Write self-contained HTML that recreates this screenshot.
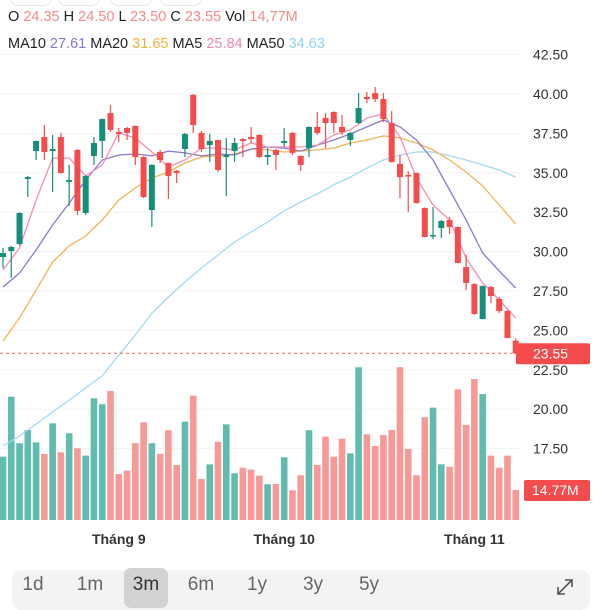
<!DOCTYPE html>
<html><head><meta charset="utf-8">
<style>
html,body{margin:0;padding:0;background:#fff;width:600px;height:600px;overflow:hidden;font-family:"Liberation Sans",sans-serif}
.hdr{position:absolute;left:8px;font-size:14.5px;color:#222;white-space:nowrap}
.v{color:#f38b8b}
.tab{position:absolute;top:574px;font-size:19px;color:#666;width:44px;text-align:center}
</style></head><body>
<div style="position:absolute;left:0;top:-14px;width:600px;height:20px">
 <div style="position:absolute;left:10px;width:40px;height:18px;border:1px solid #e6e6e6;border-radius:8px"></div>
 <div style="position:absolute;left:58px;width:40px;height:18px;border:1px solid #e6e6e6;border-radius:8px"></div>
 <div style="position:absolute;left:110px;width:40px;height:18px;border:1px solid #e6e6e6;border-radius:8px"></div>
 <div style="position:absolute;left:160px;width:40px;height:18px;border:1px solid #e6e6e6;border-radius:8px"></div>
</div>
<div class="hdr" style="top:9px">O <span class="v">24.35</span> H <span class="v">24.50</span> L <span class="v">23.50</span> C <span class="v">23.55</span> Vol <span class="v">14,77M</span></div>
<div class="hdr" style="top:36px">MA10 <span style="color:#8679cc">27.61</span> MA20 <span style="color:#eeb040">31.65</span> MA5 <span style="color:#ef88b0">25.84</span> MA50 <span style="color:#94d0ee">34.63</span></div>

<svg id="chart" width="600" height="560" style="position:absolute;left:0;top:0" xmlns="http://www.w3.org/2000/svg"></svg>

<div style="position:absolute;left:12px;top:570px;width:578px;height:40px;background:#f3f3f3;border-radius:9px"></div>
<div style="position:absolute;left:124px;top:568px;width:44px;height:40px;background:#d2d2d2;border-radius:7px"></div>
<div class="tab" style="left:11px">1d</div>
<div class="tab" style="left:68px">1m</div>
<div class="tab" style="left:124px;color:#333">3m</div>
<div class="tab" style="left:179px">6m</div>
<div class="tab" style="left:235px">1y</div>
<div class="tab" style="left:291px">3y</div>
<div class="tab" style="left:347px">5y</div>
<svg style="position:absolute;left:555px;top:577px" width="20" height="20" viewBox="0 0 20 20"><path d="M3 17 L17 3 M10 3 H17 V10 M3 10 V17 H10" stroke="#555" stroke-width="1.6" fill="none"/></svg>

<script>
const opens=[29.66,30.04,30.48,34.61,36.38,37.27,36.38,37.27,34.42,36.45,32.45,36.07,37.02,38.79,37.59,37.84,37.97,36.00,32.64,36.32,35.62,35.12,36.51,39.94,37.53,36.76,37.08,36.00,36.38,37.14,37.27,37.40,36.00,36.45,36.89,37.53,36.07,36.57,37.91,38.48,38.86,37.91,37.08,38.16,39.81,40.06,39.68,38.16,35.56,34.86,34.99,32.77,30.99,31.50,32.00,31.56,29.02,27.94,25.72,27.75,27.00,26.23,24.35];
const highs=[30.23,30.36,32.50,34.80,37.05,38.03,37.40,37.53,35.50,36.50,34.85,37.27,38.45,39.30,37.84,37.91,38.00,36.05,35.55,36.45,35.65,35.18,37.53,40.00,37.65,37.46,37.10,37.21,37.21,37.21,37.91,37.45,36.57,36.51,37.84,37.60,36.10,37.95,38.86,38.79,38.90,38.67,37.59,40.06,40.13,40.44,40.06,38.92,36.13,35.11,35.00,32.80,32.83,32.00,32.20,31.60,29.78,28.00,27.85,27.82,27.12,26.30,24.50];
const lows=[28.96,28.33,30.40,33.46,35.81,35.81,33.78,34.95,32.89,32.32,32.32,35.50,35.94,37.59,36.95,37.08,35.50,33.40,31.56,35.62,33.34,34.35,36.00,37.53,36.32,35.69,35.05,33.53,35.69,36.00,36.89,35.94,35.50,35.18,36.64,36.13,35.11,36.00,37.40,36.57,37.53,37.40,36.70,38.10,39.43,39.49,38.22,35.65,33.40,32.51,33.05,30.90,30.80,30.86,31.12,29.25,27.56,26.00,25.70,26.74,26.10,24.50,23.50];
const closes=[29.91,30.29,32.45,34.73,37.02,36.32,36.51,34.99,34.54,32.58,34.80,36.89,38.41,37.72,37.46,37.53,36.00,33.46,35.50,35.81,34.80,34.99,37.46,38.03,36.51,37.02,35.18,36.13,36.89,37.02,37.14,36.00,36.13,36.13,37.02,36.26,35.50,37.91,37.53,38.16,38.16,37.59,37.53,39.11,39.68,39.68,38.41,35.69,34.73,34.80,33.08,30.93,31.05,31.94,31.56,29.28,28.01,26.04,27.82,27.18,26.23,24.52,23.55];
const volumes=[31.2,60.7,37.8,44.3,38.2,32.5,47.6,33.3,42.7,35.3,31.7,59.9,57.0,63.5,22.6,24.3,37.8,48.1,37.8,32.5,44.2,27.1,48.4,61.2,20.2,27.4,38.5,47.1,23.0,25.7,24.8,21.8,17.6,17.7,30.9,14.6,22.0,44.2,27.1,41.0,31.2,40.0,32.8,75.2,42.2,36.4,41.8,44.3,75.2,35.0,22.0,50.6,55.3,27.4,26.2,64.3,46.8,69.4,62.0,31.7,25.7,31.7,14.77];
const maIndex=[0,2,4,6,8,10,12,14,16,18,20,22,24,26,28,30,32,34,36,38,40,42,44,46,48,50,52,54,56,58,60,62];
const ma5=[28.83,30.23,33.27,35.94,35.94,34.80,35.50,37.53,37.21,36.32,35.37,35.81,36.57,36.57,36.45,36.89,36.64,36.64,36.64,36.76,37.40,37.72,38.48,38.73,37.27,34.67,32.96,32.01,29.59,28.01,26.93,25.79];
const ma10=[27.75,28.64,30.10,31.69,33.08,34.54,35.81,36.13,36.19,36.07,36.38,36.26,36.07,36.19,36.13,36.51,36.64,36.57,36.38,36.76,37.08,37.46,37.91,38.35,37.91,37.08,35.81,33.91,32.01,29.91,28.77,27.69];
const ma20=[24.33,25.79,27.56,29.34,30.36,30.99,32.01,33.27,34.04,34.67,35.05,35.62,36.00,36.07,36.19,36.51,36.45,36.32,36.38,36.45,36.57,36.89,37.08,37.34,37.21,36.89,36.45,35.81,35.05,34.16,32.96,31.75];
const ma50=[17.67,18.30,19.06,19.82,20.58,21.35,22.11,23.44,24.71,26.10,27.12,28.07,28.96,29.78,30.61,31.24,31.88,32.58,33.15,33.66,34.23,34.73,35.30,35.81,36.13,36.32,36.32,36.07,35.81,35.50,35.18,34.73];
const priceTicks=["42.50","40.00","37.50","35.00","32.50","30.00","27.50","25.00","22.50","20.00","17.50"];
const monthLabels=["Tháng 9","Tháng 10","Tháng 11"];
const monthIndex=[14,34,57];
const lastPrice=23.55;
const lastVolume=14.77;

const NS="http://www.w3.org/2000/svg";
const svg=document.getElementById('chart');
const xOf=i=>3+i*8.27;
const yP=p=>94+(40-p)*15.76;
const yV=v=>520-v/0.4923;
function mk(tag,attrs,parent){const e=document.createElementNS(NS,tag);for(const k in attrs)e.setAttribute(k,attrs[k]);(parent||svg).appendChild(e);return e;}

// grid + price ticks
priceTicks.forEach(t=>{
  const y=yP(parseFloat(t));
  const g=mk('line',{x1:0,x2:520,y1:y,y2:y,stroke:'#f3f3f3','stroke-width':1});
  
  
  const tx=mk('text',{x:533,y:y+5,'font-size':14,fill:'#333','font-family':'Liberation Sans, sans-serif'});
  tx.textContent=t;
  
  
});
// volume bars
volumes.forEach((v,i)=>{
  const up=closes[i]>=opens[i];
  const r=mk('rect',{x:xOf(i)-3.3,y:yV(v),width:6.6,height:520-yV(v),fill:up?'#5fbcaf':'#f79a97'});
  
  
});
// MA lines
function maLine(arr,color,name){
  const d=arr.map((v,k)=>(k?'L':'M')+xOf(maIndex[k]).toFixed(1)+' '+yP(v).toFixed(1)).join(' ');
  const p=mk('path',{d:d,stroke:color,'stroke-width':1.3,fill:'none','stroke-linejoin':'round'});
  
  
}
maLine(ma50,'#a5d8f0','ma50-line');
maLine(ma20,'#f0b458','ma20-line');
maLine(ma10,'#8a7ccb','ma10-line');
maLine(ma5,'#f290b4','ma5-line');
// candles
opens.forEach((o,i)=>{
  const c=closes[i],up=c>=o,col=up?'#14907a':'#f44c4c',x=xOf(i);
  const w=mk('line',{x1:x,x2:x,y1:yP(highs[i]),y2:yP(lows[i]),stroke:col,'stroke-width':1.2});
  
  
  const top=yP(Math.max(o,c)),bot=yP(Math.min(o,c));
  const b=mk('rect',{x:x-3,y:top,width:6,height:Math.max(1.5,bot-top),fill:col});
  
  
});
// last price line + label
const ly=yP(lastPrice);
const dl=mk('line',{x1:0,x2:515,y1:ly,y2:ly,stroke:'#f06060','stroke-width':1,'stroke-dasharray':'3,3'});


const lb=mk('rect',{x:516,y:ly-10,width:74,height:21,fill:'#f44c4c',rx:2});


const lt=mk('text',{x:533,y:ly+5,'font-size':14,fill:'#fff','font-family':'Liberation Sans, sans-serif'});
lt.textContent=lastPrice.toFixed(2);


const vy=yV(lastVolume);
const vb=mk('rect',{x:524,y:vy-10,width:66,height:21,fill:'#f44c4c',rx:2});


const vt=mk('text',{x:532,y:vy+5,'font-size':14,fill:'#fff','font-family':'Liberation Sans, sans-serif'});
vt.textContent=lastVolume.toFixed(2)+'M';


// month labels
monthLabels.forEach((m,k)=>{
  const t=mk('text',{x:xOf(monthIndex[k]),y:544,'font-size':14,'font-weight':'bold',fill:'#333','text-anchor':'middle','font-family':'Liberation Sans, sans-serif'});
  t.textContent=m;
  
  
});
</script>
</body></html>
